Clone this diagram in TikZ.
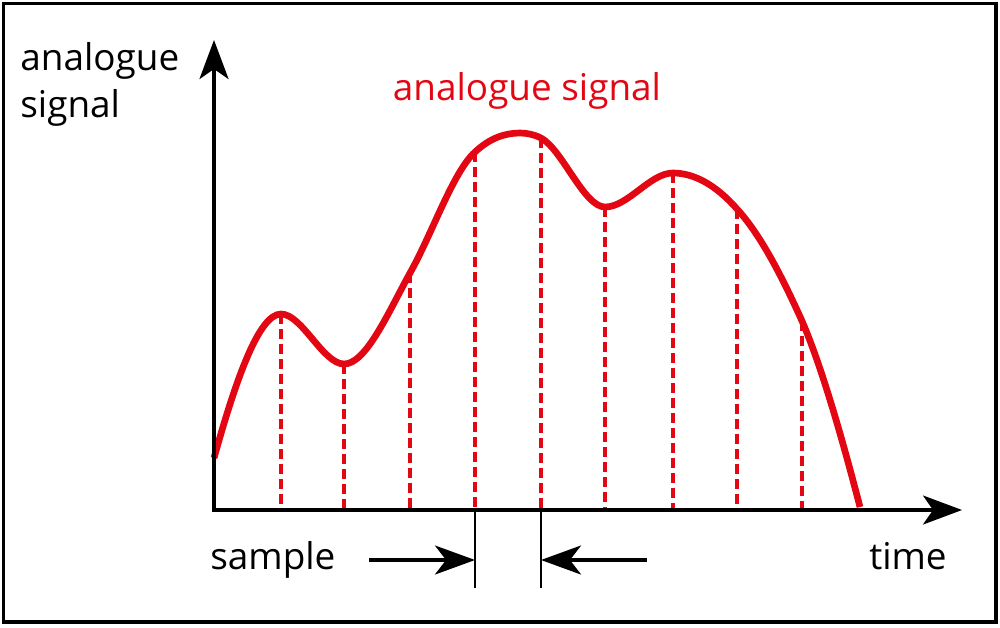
\documentclass[tikz,border=0pt]{standalone}
\usepackage{fontspec}
\setmainfont{Open Sans}
\usetikzlibrary{arrows.meta,positioning}
\definecolor{sig}{HTML}{E30613}
\tikzset{
  axis/.style={{Stealth[length=0.78cm,width=0.58cm,inset=0.2cm]}-{Stealth[length=0.78cm,width=0.58cm,inset=0.2cm]},line width=1.9pt},
  curve/.style={sig,line width=3.8pt},
  probe/.style={sig,line width=1.9pt,dash pattern=on 0.2cm off 0.1cm},
  tick/.style={line width=1.2pt},
  gap/.style={-{Stealth[length=0.8cm,width=0.58cm,inset=0.22cm]},line width=1.9pt},
  labeltext/.style={font=\fontsize{21}{27}\selectfont,inner sep=0pt}
}
\begin{document}
\begin{tikzpicture}[x=0.02cm,y=-0.02cm]
\useasboundingbox (0,0) rectangle (1000,627);
\draw[line width=1.9pt] (3.5,3.5) rectangle (996,622);
\coordinate (o) at (214,510);
\coordinate (ytop) at (214,40);
\coordinate (xend) at (962,510);
% sampling points on the curve
\foreach \x/\y [count=\i] in {281/314,344/364,410/273,475/152,541/138,605/207,673/173,737/209,802/321}
  \coordinate (s\i) at (\x,\y);
\foreach \i in {1,...,9}
  \draw[probe] (s\i) -- (s\i |- o);
\draw[curve] (214,458) .. controls (236,379) and (259,314) .. (s1)
  .. controls (302,314) and (323,364) .. (s2)
  .. controls (366,364) and (388,313) .. (s3)
  .. controls (432,234) and (453,172) .. (s4)
  .. controls (490,138) and (505,133) .. (520,133)
  .. controls (527,133) and (534,134.5) .. (s5)
  .. controls (562,149) and (584,207) .. (s6)
  .. controls (628,207) and (650,173) .. (s7)
  .. controls (694,173) and (716,185) .. (s8)
  .. controls (759,233) and (780,272) .. (s9)
  .. controls (821,365) and (841,434) .. (860,507);
\draw[axis] (ytop) -- (o) -- (xend);
\node[labeltext,anchor=north west,align=left] (ylab) at (20,42) {analogue\\signal};
\node[labeltext,text=sig,anchor=base] (title) at (527,100) {analogue signal};
\node[labeltext,anchor=base west] (smp) at (210,569) {sample};
\node[labeltext,anchor=base east] (tlab) at (947,569) {time};
% sample interval
\coordinate (g1) at (475,588);
\coordinate (g2) at (541,588);
\draw[tick] (s4 |- o) -- (g1);
\draw[tick] (s5 |- o) -- (g2);
\coordinate (a1) at (369,560);
\coordinate (a2) at (647,560);
\draw[gap] (a1) -- (a1 -| g1);
\draw[gap] (a2) -- (a2 -| g2);
\end{tikzpicture}
\end{document}
